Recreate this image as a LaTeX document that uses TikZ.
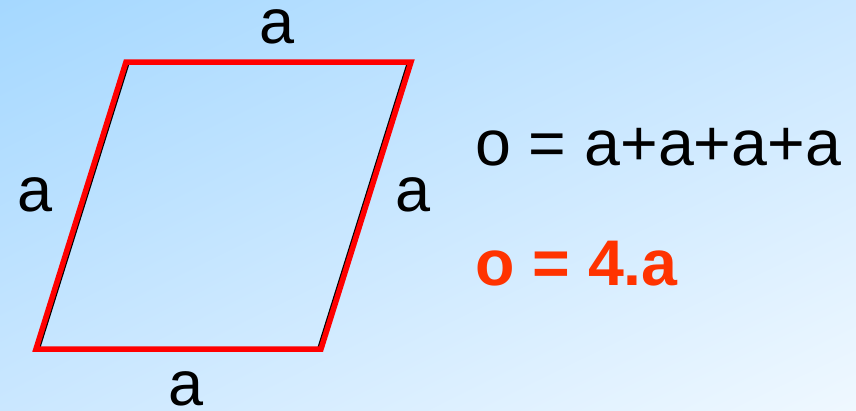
\documentclass[tikz,border=0pt]{standalone}
\usepackage{fontspec}
\setmainfont{Liberation Sans}
\usetikzlibrary{positioning,calc,shadings}
\definecolor{cSkyA}{HTML}{A5D8FF}
\definecolor{cSkyB}{HTML}{CAE7FF}
\definecolor{cSkyC}{HTML}{EFF8FF}
\definecolor{cRed}{HTML}{FF0000}
\definecolor{cOrange}{HTML}{FF3300}
\tikzset{
  lbl/.style={anchor=base,inner sep=0pt,font=\fontsize{63}{70}\selectfont},
  frm/.style={anchor=base west,inner sep=0pt,font=\fontsize{64.5}{72}\selectfont},
  edgeblk/.style={draw=black,line width=3pt,line join=miter},
  edgered/.style={draw=cRed,line width=5.5pt,line join=miter},
}

\begin{document}
\begin{tikzpicture}[x=1pt,y=-1pt]
  \useasboundingbox (0,0) rectangle (856,410);
  \shade[upper left=cSkyA,upper right=cSkyB,lower left=cSkyB,lower right=cSkyC] (0,0) rectangle (856,410);
  % corners of the rhombus
  \coordinate (tl) at (126,62);
  \coordinate (tr) at (411,62);
  \coordinate (br) at (321,349);
  \coordinate (bl) at (36,349);
  \draw[edgeblk] ($(tl)+(2.5,0)$) -- ($(tr)+(-2.5,0)$) -- ($(br)+(-2.5,0)$) -- ($(bl)+(2.5,0)$) -- cycle;
  \draw[edgered] (tl) -- (tr) -- (br) -- (bl) -- cycle;
  % side labels
  \node[lbl] (atop) at (277,43) {a};
  \node[lbl] (aleft) at (35.5,211) {a};
  \node[lbl] (aright) at (413.5,211) {a};
  \node[lbl] (abot) at (186.5,405) {a};
  % perimeter
  \node[frm] (sum) at (475,165) {o = a+a+a+a};
  \node[frm,text=cOrange,font=\fontsize{64.5}{72}\selectfont\bfseries] (res) at (475,285) {o = 4.a};
\end{tikzpicture}
\end{document}
